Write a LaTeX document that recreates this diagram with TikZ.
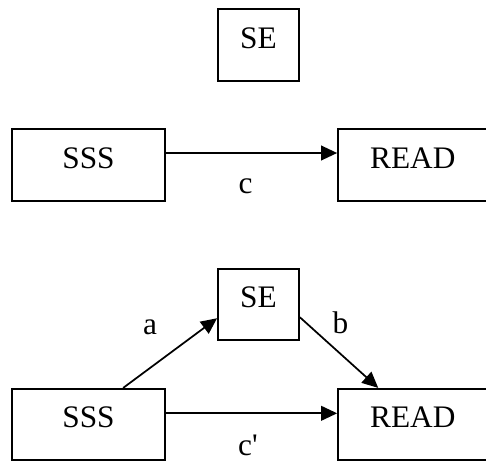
\documentclass[tikz,border=0pt]{standalone}
\usepackage{fontspec}
\setmainfont{Liberation Serif}
\usetikzlibrary{arrows.meta,positioning}

\begin{document}
\begin{tikzpicture}[
    x=0.75pt,y=-0.75pt,
    >={Triangle[length=12pt,width=11pt]},
    medbox/.style={draw,line width=1.4pt,inner sep=0pt,minimum height=53.5pt,
      text depth=10.5pt,font=\fontsize{23.5}{27}\selectfont},
    varbox/.style={medbox,minimum width=114.75pt},
    coeflab/.style={anchor=base,inner sep=0pt,font=\fontsize{23.5}{27}\selectfont},
    link/.style={->,line width=1.3pt}]
  \useasboundingbox (0,0) rectangle (486,462);
  % total effect
  \node[medbox,minimum width=60.75pt] (se1) at (258.5,45) {SE};
  \node[varbox] (sss1) at (88.5,165) {SSS};
  \node[varbox,minimum width=112pt] (read1) at (412.75,165) {READ};
  \draw[link] ([yshift=9pt]sss1.east) -- ([yshift=9pt]read1.west);
  \node[coeflab] (lc) at (245.5,193) {c};
  % mediated effect
  \node[medbox,minimum width=60.75pt] (se2) at (258.5,304.5) {SE};
  \node[varbox] (sss2) at (88.5,424.5) {SSS};
  \node[varbox,minimum width=112pt] (read2) at (412.75,424.5) {READ};
  \draw[link] ([xshift=26pt]sss2.north) -- ([yshift=-10.3pt]se2.west);
  \draw[link] ([yshift=-9.6pt]se2.east) -- ([xshift=-25.9pt]read2.north);
  \draw[link] ([yshift=8.4pt]sss2.east) -- ([yshift=8.4pt]read2.west);
  \node[coeflab] (la) at (150,334) {a};
  \node[coeflab] (lb) at (340.5,333) {b};
  \node[coeflab] (lcp) at (248,455) {c\textquotesingle};
\end{tikzpicture}
\end{document}
